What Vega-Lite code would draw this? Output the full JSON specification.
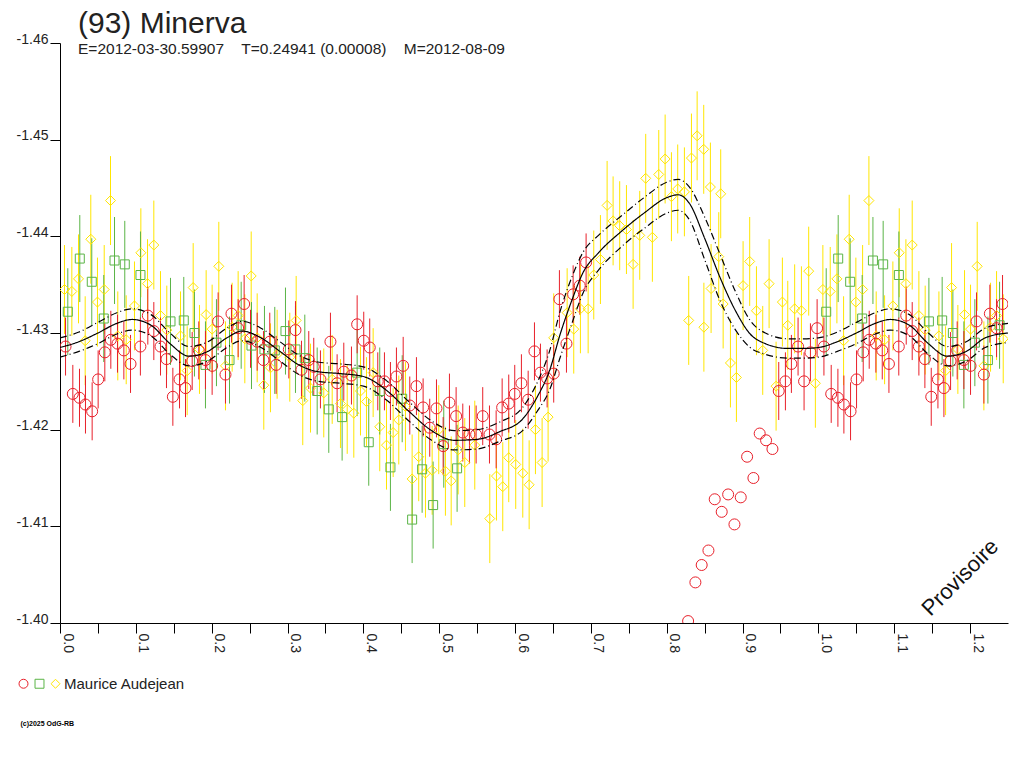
{
  "$schema": "https://vega.github.io/schema/vega-lite/v6.json",
  "width": 948,
  "height": 580,
  "autosize": {"type": "none"},
  "padding": {"left": 60, "top": 43, "right": 16, "bottom": 145},
  "background": "white",
  "title": {
    "text": "(93) Minerva",
    "subtitle": "E=2012-03-30.59907\u00a0\u00a0\u00a0\u00a0T=0.24941 (0.00008)\u00a0\u00a0\u00a0\u00a0M=2012-08-09",
    "anchor": "start", "frame": "group", "dx": 18, "offset": -25,
    "font": "Liberation Sans", "fontSize": 30, "fontWeight": "normal", "color": "#222",
    "subtitleFont": "Liberation Sans", "subtitleFontSize": 15.5, "subtitleColor": "#222", "subtitlePadding": 3
  },
  "config": {
    "view": {"stroke": null},
    "font": "Liberation Sans",
    "axis": {"domainColor": "#000", "tickColor": "#000", "labelColor": "#222", "labelFont": "Liberation Sans", "labelFontSize": 14, "grid": false, "domainWidth": 1, "tickWidth": 1},
    "axisY": {"tickSize": 10, "labelPadding": 2, "labelBaseline": "alphabetic"},
    "axisX": {"tickSize": 10, "labelPadding": 0, "labelAngle": 90, "labelAlign": "left", "labelBaseline": "bottom"}
  },
  "datasets": {
    "pts": [
      {"p":0.0059,"m":-1.4345,"e":0.0046,"s":"Y"},{"p":0.0156,"m":-1.4343,"e":0.0046,"s":"Y"},{"p":0.0244,"m":-1.4356,"e":0.0046,"s":"Y"},{"p":0.0332,"m":-1.4292,"e":0.0046,"s":"Y"},{"p":0.0406,"m":-1.4397,"e":0.0046,"s":"Y"},{"p":0.0494,"m":-1.4332,"e":0.0046,"s":"Y"},{"p":0.0583,"m":-1.4345,"e":0.0046,"s":"Y"},{"p":0.0666,"m":-1.4437,"e":0.0046,"s":"Y"},{"p":0.0762,"m":-1.4297,"e":0.0046,"s":"Y"},{"p":0.0873,"m":-1.4293,"e":0.0046,"s":"Y"},
      {"p":0.0982,"m":-1.4328,"e":0.0046,"s":"Y"},{"p":0.1066,"m":-1.4383,"e":0.0046,"s":"Y"},{"p":0.1154,"m":-1.4351,"e":0.0046,"s":"Y"},{"p":0.1237,"m":-1.4391,"e":0.0046,"s":"Y"},{"p":0.1325,"m":-1.4318,"e":0.0046,"s":"Y"},{"p":0.1408,"m":-1.4303,"e":0.0046,"s":"Y"},{"p":0.1589,"m":-1.4297,"e":0.0046,"s":"Y"},{"p":0.1677,"m":-1.4261,"e":0.0046,"s":"Y"},{"p":0.1756,"m":-1.4347,"e":0.0046,"s":"Y"},{"p":0.1839,"m":-1.4283,"e":0.0046,"s":"Y"},
      {"p":0.1927,"m":-1.4319,"e":0.0046,"s":"Y"},{"p":0.2006,"m":-1.4304,"e":0.0046,"s":"Y"},{"p":0.2094,"m":-1.4369,"e":0.0046,"s":"Y"},{"p":0.2182,"m":-1.4266,"e":0.0046,"s":"Y"},{"p":0.2270,"m":-1.4306,"e":0.0046,"s":"Y"},{"p":0.2349,"m":-1.4318,"e":0.0046,"s":"Y"},{"p":0.2437,"m":-1.4294,"e":0.0046,"s":"Y"},{"p":0.2521,"m":-1.4359,"e":0.0046,"s":"Y"},{"p":0.2600,"m":-1.4295,"e":0.0046,"s":"Y"},{"p":0.2687,"m":-1.4246,"e":0.0046,"s":"Y"},
      {"p":0.2775,"m":-1.4264,"e":0.0046,"s":"Y"},{"p":0.2863,"m":-1.4278,"e":0.0046,"s":"Y"},{"p":0.3030,"m":-1.4275,"e":0.0046,"s":"Y"},{"p":0.3114,"m":-1.4313,"e":0.0046,"s":"Y"},{"p":0.3201,"m":-1.4230,"e":0.0046,"s":"Y"},{"p":0.3303,"m":-1.4243,"e":0.0046,"s":"Y"},{"p":0.3478,"m":-1.4238,"e":0.0046,"s":"Y"},{"p":0.3589,"m":-1.4252,"e":0.0046,"s":"Y"},{"p":0.3698,"m":-1.4227,"e":0.0046,"s":"Y"},{"p":0.3787,"m":-1.4221,"e":0.0046,"s":"Y"},
      {"p":0.3874,"m":-1.4217,"e":0.0046,"s":"Y"},{"p":0.3962,"m":-1.4240,"e":0.0046,"s":"Y"},{"p":0.4041,"m":-1.4229,"e":0.0046,"s":"Y"},{"p":0.4129,"m":-1.4259,"e":0.0046,"s":"Y"},{"p":0.4216,"m":-1.4203,"e":0.0046,"s":"Y"},{"p":0.4305,"m":-1.4184,"e":0.0046,"s":"Y"},{"p":0.4393,"m":-1.4197,"e":0.0046,"s":"Y"},{"p":0.4467,"m":-1.4210,"e":0.0046,"s":"Y"},{"p":0.4555,"m":-1.4224,"e":0.0046,"s":"Y"},{"p":0.4643,"m":-1.4149,"e":0.0046,"s":"Y"},
      {"p":0.4730,"m":-1.4172,"e":0.0046,"s":"Y"},{"p":0.4819,"m":-1.4155,"e":0.0046,"s":"Y"},{"p":0.4907,"m":-1.4158,"e":0.0046,"s":"Y"},{"p":0.4994,"m":-1.4200,"e":0.0046,"s":"Y"},{"p":0.5082,"m":-1.4157,"e":0.0046,"s":"Y"},{"p":0.5158,"m":-1.4147,"e":0.0046,"s":"Y"},{"p":0.5250,"m":-1.4179,"e":0.0046,"s":"Y"},{"p":0.5337,"m":-1.4166,"e":0.0046,"s":"Y"},{"p":0.5469,"m":-1.4184,"e":0.0046,"s":"Y"},{"p":0.5667,"m":-1.4108,"e":0.0046,"s":"Y"},
      {"p":0.5755,"m":-1.4152,"e":0.0046,"s":"Y"},{"p":0.5838,"m":-1.4141,"e":0.0046,"s":"Y"},{"p":0.5917,"m":-1.4171,"e":0.0046,"s":"Y"},{"p":0.6009,"m":-1.4164,"e":0.0046,"s":"Y"},{"p":0.6102,"m":-1.4155,"e":0.0046,"s":"Y"},{"p":0.6186,"m":-1.4143,"e":0.0046,"s":"Y"},{"p":0.6269,"m":-1.4200,"e":0.0046,"s":"Y"},{"p":0.6357,"m":-1.4166,"e":0.0046,"s":"Y"},{"p":0.6436,"m":-1.4213,"e":0.0046,"s":"Y"},{"p":0.6510,"m":-1.4295,"e":0.0046,"s":"Y"},
      {"p":0.6687,"m":-1.4321,"e":0.0046,"s":"Y"},{"p":0.6774,"m":-1.4304,"e":0.0046,"s":"Y"},{"p":0.6862,"m":-1.4325,"e":0.0046,"s":"Y"},{"p":0.6964,"m":-1.4325,"e":0.0046,"s":"Y"},{"p":0.7038,"m":-1.4360,"e":0.0046,"s":"Y"},{"p":0.7126,"m":-1.4376,"e":0.0046,"s":"Y"},{"p":0.7214,"m":-1.4432,"e":0.0046,"s":"Y"},{"p":0.7293,"m":-1.4416,"e":0.0046,"s":"Y"},{"p":0.7380,"m":-1.4411,"e":0.0046,"s":"Y"},{"p":0.7469,"m":-1.4407,"e":0.0046,"s":"Y"},
      {"p":0.7557,"m":-1.4371,"e":0.0046,"s":"Y"},{"p":0.7644,"m":-1.4401,"e":0.0046,"s":"Y"},{"p":0.7723,"m":-1.4460,"e":0.0046,"s":"Y"},{"p":0.7811,"m":-1.4399,"e":0.0046,"s":"Y"},{"p":0.7895,"m":-1.4464,"e":0.0046,"s":"Y"},{"p":0.7979,"m":-1.4480,"e":0.0046,"s":"Y"},{"p":0.8062,"m":-1.4441,"e":0.0046,"s":"Y"},{"p":0.8145,"m":-1.4449,"e":0.0046,"s":"Y"},{"p":0.8233,"m":-1.4446,"e":0.0046,"s":"Y"},{"p":0.8290,"m":-1.4313,"e":0.0046,"s":"Y"},
      {"p":0.8326,"m":-1.4481,"e":0.0046,"s":"Y"},{"p":0.8401,"m":-1.4504,"e":0.0046,"s":"Y"},{"p":0.8488,"m":-1.4490,"e":0.0046,"s":"Y"},{"p":0.8490,"m":-1.4306,"e":0.0046,"s":"Y"},{"p":0.8576,"m":-1.4451,"e":0.0046,"s":"Y"},{"p":0.8585,"m":-1.4346,"e":0.0046,"s":"Y"},{"p":0.8686,"m":-1.4379,"e":0.0046,"s":"Y"},{"p":0.8712,"m":-1.4444,"e":0.0046,"s":"Y"},{"p":0.8744,"m":-1.4330,"e":0.0046,"s":"Y"},{"p":0.8840,"m":-1.4269,"e":0.0046,"s":"Y"},
      {"p":0.8919,"m":-1.4254,"e":0.0046,"s":"Y"},{"p":0.9007,"m":-1.4349,"e":0.0046,"s":"Y"},{"p":0.9094,"m":-1.4374,"e":0.0046,"s":"Y"},{"p":0.9183,"m":-1.4323,"e":0.0046,"s":"Y"},{"p":0.9266,"m":-1.4282,"e":0.0046,"s":"Y"},{"p":0.9350,"m":-1.4351,"e":0.0046,"s":"Y"},{"p":0.9442,"m":-1.4245,"e":0.0046,"s":"Y"},{"p":0.9525,"m":-1.4332,"e":0.0046,"s":"Y"},{"p":0.9596,"m":-1.4308,"e":0.0046,"s":"Y"},{"p":0.9687,"m":-1.4325,"e":0.0046,"s":"Y"},
      {"p":0.9776,"m":-1.4323,"e":0.0046,"s":"Y"},{"p":0.9872,"m":-1.4364,"e":0.0046,"s":"Y"},{"p":0.9960,"m":-1.4248,"e":0.0046,"s":"Y"},
      {"p":1.0059,"m":-1.4345,"e":0.0046,"s":"Y"},{"p":1.0156,"m":-1.4343,"e":0.0046,"s":"Y"},{"p":1.0244,"m":-1.4356,"e":0.0046,"s":"Y"},{"p":1.0332,"m":-1.4292,"e":0.0046,"s":"Y"},{"p":1.0406,"m":-1.4397,"e":0.0046,"s":"Y"},{"p":1.0494,"m":-1.4332,"e":0.0046,"s":"Y"},{"p":1.0583,"m":-1.4345,"e":0.0046,"s":"Y"},{"p":1.0666,"m":-1.4437,"e":0.0046,"s":"Y"},{"p":1.0762,"m":-1.4297,"e":0.0046,"s":"Y"},{"p":1.0873,"m":-1.4293,"e":0.0046,"s":"Y"},
      {"p":1.0982,"m":-1.4328,"e":0.0046,"s":"Y"},{"p":1.1066,"m":-1.4383,"e":0.0046,"s":"Y"},{"p":1.1154,"m":-1.4351,"e":0.0046,"s":"Y"},{"p":1.1237,"m":-1.4391,"e":0.0046,"s":"Y"},{"p":1.1325,"m":-1.4318,"e":0.0046,"s":"Y"},{"p":1.1408,"m":-1.4303,"e":0.0046,"s":"Y"},{"p":1.1589,"m":-1.4297,"e":0.0046,"s":"Y"},{"p":1.1677,"m":-1.4261,"e":0.0046,"s":"Y"},{"p":1.1756,"m":-1.4347,"e":0.0046,"s":"Y"},{"p":1.1839,"m":-1.4283,"e":0.0046,"s":"Y"},
      {"p":1.1927,"m":-1.4319,"e":0.0046,"s":"Y"},{"p":1.2006,"m":-1.4304,"e":0.0046,"s":"Y"},{"p":1.2094,"m":-1.4369,"e":0.0046,"s":"Y"},{"p":1.2182,"m":-1.4266,"e":0.0046,"s":"Y"},{"p":1.2270,"m":-1.4306,"e":0.0046,"s":"Y"},{"p":1.2349,"m":-1.4318,"e":0.0046,"s":"Y"},{"p":1.2437,"m":-1.4294,"e":0.0046,"s":"Y"},
      {"p":0.0103,"m":-1.4322,"e":0.0045,"s":"G"},{"p":0.0261,"m":-1.4377,"e":0.0045,"s":"G"},{"p":0.0419,"m":-1.4353,"e":0.0045,"s":"G"},{"p":0.0577,"m":-1.4315,"e":0.0045,"s":"G"},{"p":0.0719,"m":-1.4375,"e":0.0045,"s":"G"},{"p":0.0854,"m":-1.4371,"e":0.0045,"s":"G"},{"p":0.1061,"m":-1.4360,"e":0.0045,"s":"G"},{"p":0.1457,"m":-1.4312,"e":0.0045,"s":"G"},{"p":0.1632,"m":-1.4313,"e":0.0045,"s":"G"},{"p":0.1773,"m":-1.4300,"e":0.0045,"s":"G"},
      {"p":0.1918,"m":-1.4267,"e":0.0045,"s":"G"},{"p":0.2063,"m":-1.4290,"e":0.0045,"s":"G"},{"p":0.2235,"m":-1.4272,"e":0.0045,"s":"G"},{"p":0.2389,"m":-1.4308,"e":0.0045,"s":"G"},{"p":0.2525,"m":-1.4287,"e":0.0045,"s":"G"},{"p":0.2696,"m":-1.4283,"e":0.0045,"s":"G"},{"p":0.2832,"m":-1.4282,"e":0.0045,"s":"G"},{"p":0.2973,"m":-1.4302,"e":0.0045,"s":"G"},{"p":0.3105,"m":-1.4283,"e":0.0045,"s":"G"},{"p":0.3228,"m":-1.4274,"e":0.0045,"s":"G"},
      {"p":0.3391,"m":-1.4240,"e":0.0045,"s":"G"},{"p":0.3544,"m":-1.4221,"e":0.0045,"s":"G"},{"p":0.3720,"m":-1.4213,"e":0.0045,"s":"G"},{"p":0.3918,"m":-1.4259,"e":0.0045,"s":"G"},{"p":0.4071,"m":-1.4187,"e":0.0045,"s":"G"},{"p":0.4216,"m":-1.4240,"e":0.0045,"s":"G"},{"p":0.4357,"m":-1.4161,"e":0.0045,"s":"G"},{"p":0.4512,"m":-1.4232,"e":0.0045,"s":"G"},{"p":0.4643,"m":-1.4107,"e":0.0045,"s":"G"},{"p":0.4775,"m":-1.4159,"e":0.0045,"s":"G"},
      {"p":0.4920,"m":-1.4122,"e":0.0045,"s":"G"},{"p":0.5060,"m":-1.4185,"e":0.0045,"s":"G"},{"p":0.5236,"m":-1.4160,"e":0.0045,"s":"G"},
      {"p":1.0103,"m":-1.4322,"e":0.0045,"s":"G"},{"p":1.0261,"m":-1.4377,"e":0.0045,"s":"G"},{"p":1.0419,"m":-1.4353,"e":0.0045,"s":"G"},{"p":1.0577,"m":-1.4315,"e":0.0045,"s":"G"},{"p":1.0719,"m":-1.4375,"e":0.0045,"s":"G"},{"p":1.0854,"m":-1.4371,"e":0.0045,"s":"G"},{"p":1.1061,"m":-1.4360,"e":0.0045,"s":"G"},{"p":1.1457,"m":-1.4312,"e":0.0045,"s":"G"},{"p":1.1632,"m":-1.4313,"e":0.0045,"s":"G"},{"p":1.1773,"m":-1.4300,"e":0.0045,"s":"G"},
      {"p":1.1918,"m":-1.4267,"e":0.0045,"s":"G"},{"p":1.2063,"m":-1.4290,"e":0.0045,"s":"G"},{"p":1.2235,"m":-1.4272,"e":0.0045,"s":"G"},{"p":1.2389,"m":-1.4308,"e":0.0045,"s":"G"},
      {"p":0.0073,"m":-1.4286,"e":0.003,"s":"R"},{"p":0.0169,"m":-1.4237,"e":0.003,"s":"R"},{"p":0.0257,"m":-1.4233,"e":0.003,"s":"R"},{"p":0.0336,"m":-1.4226,"e":0.003,"s":"R"},{"p":0.0424,"m":-1.4219,"e":0.003,"s":"R"},{"p":0.0503,"m":-1.4252,"e":0.003,"s":"R"},{"p":0.0591,"m":-1.4280,"e":0.003,"s":"R"},{"p":0.0670,"m":-1.4293,"e":0.003,"s":"R"},{"p":0.0758,"m":-1.4289,"e":0.003,"s":"R"},{"p":0.0842,"m":-1.4282,"e":0.003,"s":"R"},
      {"p":0.0930,"m":-1.4268,"e":0.003,"s":"R"},{"p":0.1060,"m":-1.4286,"e":0.003,"s":"R"},{"p":0.1158,"m":-1.4318,"e":0.003,"s":"R"},{"p":0.1237,"m":-1.4302,"e":0.003,"s":"R"},{"p":0.1325,"m":-1.4286,"e":0.003,"s":"R"},{"p":0.1404,"m":-1.4273,"e":0.003,"s":"R"},{"p":0.1488,"m":-1.4234,"e":0.003,"s":"R"},{"p":0.1576,"m":-1.4252,"e":0.003,"s":"R"},{"p":0.1655,"m":-1.4243,"e":0.003,"s":"R"},{"p":0.1743,"m":-1.4271,"e":0.003,"s":"R"},
      {"p":0.1830,"m":-1.4282,"e":0.003,"s":"R"},{"p":0.1918,"m":-1.4272,"e":0.003,"s":"R"},{"p":0.2006,"m":-1.4266,"e":0.003,"s":"R"},{"p":0.2085,"m":-1.4312,"e":0.003,"s":"R"},{"p":0.2182,"m":-1.4257,"e":0.003,"s":"R"},{"p":0.2261,"m":-1.4320,"e":0.003,"s":"R"},{"p":0.2349,"m":-1.4305,"e":0.003,"s":"R"},{"p":0.2428,"m":-1.4330,"e":0.003,"s":"R"},{"p":0.2512,"m":-1.4294,"e":0.003,"s":"R"},{"p":0.2600,"m":-1.4291,"e":0.003,"s":"R"},
      {"p":0.2683,"m":-1.4272,"e":0.003,"s":"R"},{"p":0.2766,"m":-1.4291,"e":0.003,"s":"R"},{"p":0.2850,"m":-1.4267,"e":0.003,"s":"R"},{"p":0.3017,"m":-1.4283,"e":0.003,"s":"R"},{"p":0.3105,"m":-1.4303,"e":0.003,"s":"R"},{"p":0.3184,"m":-1.4262,"e":0.003,"s":"R"},{"p":0.3280,"m":-1.4272,"e":0.003,"s":"R"},{"p":0.3346,"m":-1.4265,"e":0.003,"s":"R"},{"p":0.3434,"m":-1.4252,"e":0.003,"s":"R"},{"p":0.3566,"m":-1.4291,"e":0.003,"s":"R"},
      {"p":0.3654,"m":-1.4248,"e":0.003,"s":"R"},{"p":0.3742,"m":-1.4260,"e":0.003,"s":"R"},{"p":0.3843,"m":-1.4256,"e":0.003,"s":"R"},{"p":0.3918,"m":-1.4309,"e":0.003,"s":"R"},{"p":0.4005,"m":-1.4292,"e":0.003,"s":"R"},{"p":0.4084,"m":-1.4285,"e":0.003,"s":"R"},{"p":0.4190,"m":-1.4250,"e":0.003,"s":"R"},{"p":0.4278,"m":-1.4250,"e":0.003,"s":"R"},{"p":0.4357,"m":-1.4240,"e":0.003,"s":"R"},{"p":0.4436,"m":-1.4255,"e":0.003,"s":"R"},
      {"p":0.4525,"m":-1.4266,"e":0.003,"s":"R"},{"p":0.4612,"m":-1.4225,"e":0.003,"s":"R"},{"p":0.4700,"m":-1.4245,"e":0.003,"s":"R"},{"p":0.4788,"m":-1.4223,"e":0.003,"s":"R"},{"p":0.4875,"m":-1.4202,"e":0.003,"s":"R"},{"p":0.4964,"m":-1.4222,"e":0.003,"s":"R"},{"p":0.5052,"m":-1.4183,"e":0.003,"s":"R"},{"p":0.5135,"m":-1.4228,"e":0.003,"s":"R"},{"p":0.5223,"m":-1.4214,"e":0.003,"s":"R"},{"p":0.5311,"m":-1.4197,"e":0.003,"s":"R"},
      {"p":0.5399,"m":-1.4195,"e":0.003,"s":"R"},{"p":0.5487,"m":-1.4195,"e":0.003,"s":"R"},{"p":0.5574,"m":-1.4214,"e":0.003,"s":"R"},{"p":0.5663,"m":-1.4195,"e":0.003,"s":"R"},{"p":0.5751,"m":-1.4190,"e":0.003,"s":"R"},{"p":0.5830,"m":-1.4223,"e":0.003,"s":"R"},{"p":0.5917,"m":-1.4227,"e":0.003,"s":"R"},{"p":0.5996,"m":-1.4237,"e":0.003,"s":"R"},{"p":0.6084,"m":-1.4248,"e":0.003,"s":"R"},{"p":0.6173,"m":-1.4231,"e":0.003,"s":"R"},
      {"p":0.6256,"m":-1.4281,"e":0.003,"s":"R"},{"p":0.6335,"m":-1.4259,"e":0.003,"s":"R"},{"p":0.6423,"m":-1.4253,"e":0.003,"s":"R"},{"p":0.6510,"m":-1.4258,"e":0.003,"s":"R"},{"p":0.6585,"m":-1.4335,"e":0.003,"s":"R"},{"p":0.6678,"m":-1.4289,"e":0.003,"s":"R"},{"p":0.6766,"m":-1.4340,"e":0.003,"s":"R"},{"p":0.6853,"m":-1.4349,"e":0.003,"s":"R"},{"p":0.6937,"m":-1.4373,"e":0.003,"s":"R"},
      {"p":0.9477,"m":-1.4240,"e":0.003,"s":"R"},{"p":0.9565,"m":-1.4250,"e":0.003,"s":"R"},{"p":0.9644,"m":-1.4268,"e":0.003,"s":"R"},{"p":0.9732,"m":-1.4286,"e":0.003,"s":"R"},{"p":0.9811,"m":-1.4250,"e":0.003,"s":"R"},{"p":0.9895,"m":-1.4280,"e":0.003,"s":"R"},{"p":0.9983,"m":-1.4305,"e":0.003,"s":"R"},
      {"p":1.0073,"m":-1.4286,"e":0.003,"s":"R"},{"p":1.0169,"m":-1.4237,"e":0.003,"s":"R"},{"p":1.0257,"m":-1.4233,"e":0.003,"s":"R"},{"p":1.0336,"m":-1.4226,"e":0.003,"s":"R"},{"p":1.0424,"m":-1.4219,"e":0.003,"s":"R"},{"p":1.0503,"m":-1.4252,"e":0.003,"s":"R"},{"p":1.0591,"m":-1.4280,"e":0.003,"s":"R"},{"p":1.0670,"m":-1.4293,"e":0.003,"s":"R"},{"p":1.0758,"m":-1.4289,"e":0.003,"s":"R"},{"p":1.0842,"m":-1.4282,"e":0.003,"s":"R"},
      {"p":1.0930,"m":-1.4268,"e":0.003,"s":"R"},{"p":1.1060,"m":-1.4286,"e":0.003,"s":"R"},{"p":1.1158,"m":-1.4318,"e":0.003,"s":"R"},{"p":1.1237,"m":-1.4302,"e":0.003,"s":"R"},{"p":1.1325,"m":-1.4286,"e":0.003,"s":"R"},{"p":1.1404,"m":-1.4273,"e":0.003,"s":"R"},{"p":1.1488,"m":-1.4234,"e":0.003,"s":"R"},{"p":1.1576,"m":-1.4252,"e":0.003,"s":"R"},{"p":1.1655,"m":-1.4243,"e":0.003,"s":"R"},{"p":1.1743,"m":-1.4271,"e":0.003,"s":"R"},
      {"p":1.1830,"m":-1.4282,"e":0.003,"s":"R"},{"p":1.1918,"m":-1.4272,"e":0.003,"s":"R"},{"p":1.2006,"m":-1.4266,"e":0.003,"s":"R"},{"p":1.2085,"m":-1.4312,"e":0.003,"s":"R"},{"p":1.2182,"m":-1.4257,"e":0.003,"s":"R"},{"p":1.2261,"m":-1.4320,"e":0.003,"s":"R"},{"p":1.2349,"m":-1.4305,"e":0.003,"s":"R"},{"p":1.2428,"m":-1.4330,"e":0.003,"s":"R"},
      {"p":0.8282,"m":-1.4002,"e":0,"s":"R"},{"p":0.8378,"m":-1.4042,"e":0,"s":"R"},{"p":0.8461,"m":-1.4060,"e":0,"s":"R"},{"p":0.8550,"m":-1.4075,"e":0,"s":"R"},{"p":0.8633,"m":-1.4128,"e":0,"s":"R"},{"p":0.8725,"m":-1.4115,"e":0,"s":"R"},{"p":0.8810,"m":-1.4133,"e":0,"s":"R"},{"p":0.8893,"m":-1.4102,"e":0,"s":"R"},{"p":0.8976,"m":-1.4130,"e":0,"s":"R"},{"p":0.9060,"m":-1.4172,"e":0,"s":"R"},
      {"p":0.9143,"m":-1.4150,"e":0,"s":"R"},{"p":0.9226,"m":-1.4196,"e":0,"s":"R"},{"p":0.9310,"m":-1.4189,"e":0,"s":"R"},{"p":0.9394,"m":-1.4180,"e":0,"s":"R"}
    ],
    "fit": [
      {"p":0.000,"f":-1.4285,"u":-1.4295,"d":-1.4275},{"p":0.025,"f":-1.4291,"u":-1.4301,"d":-1.4281},{"p":0.050,"f":-1.4300,"u":-1.4311,"d":-1.4289},{"p":0.075,"f":-1.4310,"u":-1.4321,"d":-1.4299},{"p":0.095,"f":-1.4314,"u":-1.4325,"d":-1.4303},{"p":0.120,"f":-1.4308,"u":-1.4319,"d":-1.4297},{"p":0.145,"f":-1.4289,"u":-1.4300,"d":-1.4278},{"p":0.170,"f":-1.4276,"u":-1.4286,"d":-1.4266},{"p":0.195,"f":-1.4281,"u":-1.4291,"d":-1.4271},{"p":0.220,"f":-1.4295,"u":-1.4305,"d":-1.4285},
      {"p":0.240,"f":-1.4302,"u":-1.4312,"d":-1.4292},{"p":0.265,"f":-1.4295,"u":-1.4305,"d":-1.4285},{"p":0.290,"f":-1.4281,"u":-1.4291,"d":-1.4271},{"p":0.315,"f":-1.4267,"u":-1.4277,"d":-1.4257},{"p":0.340,"f":-1.4260,"u":-1.4270,"d":-1.4250},{"p":0.370,"f":-1.4258,"u":-1.4268,"d":-1.4248},{"p":0.400,"f":-1.4255,"u":-1.4265,"d":-1.4245},{"p":0.430,"f":-1.4241,"u":-1.4251,"d":-1.4231},{"p":0.460,"f":-1.4219,"u":-1.4229,"d":-1.4209},{"p":0.490,"f":-1.4199,"u":-1.4209,"d":-1.4189},
      {"p":0.520,"f":-1.4189,"u":-1.4199,"d":-1.4179},{"p":0.550,"f":-1.4190,"u":-1.4200,"d":-1.4180},{"p":0.580,"f":-1.4198,"u":-1.4208,"d":-1.4188},{"p":0.610,"f":-1.4211,"u":-1.4223,"d":-1.4199},{"p":0.630,"f":-1.4235,"u":-1.4250,"d":-1.4220},{"p":0.645,"f":-1.4260,"u":-1.4280,"d":-1.4240},{"p":0.660,"f":-1.4300,"u":-1.4324,"d":-1.4276},{"p":0.675,"f":-1.4334,"u":-1.4358,"d":-1.4310},{"p":0.690,"f":-1.4363,"u":-1.4384,"d":-1.4342},{"p":0.710,"f":-1.4383,"u":-1.4401,"d":-1.4365},
      {"p":0.740,"f":-1.4405,"u":-1.4421,"d":-1.4389},{"p":0.770,"f":-1.4424,"u":-1.4440,"d":-1.4408},{"p":0.800,"f":-1.4440,"u":-1.4456,"d":-1.4424},{"p":0.815,"f":-1.4443,"u":-1.4459,"d":-1.4427},{"p":0.830,"f":-1.4434,"u":-1.4451,"d":-1.4417},{"p":0.850,"f":-1.4398,"u":-1.4420,"d":-1.4376},{"p":0.870,"f":-1.4358,"u":-1.4382,"d":-1.4334},{"p":0.890,"f":-1.4324,"u":-1.4344,"d":-1.4304},{"p":0.910,"f":-1.4299,"u":-1.4313,"d":-1.4285},{"p":0.930,"f":-1.4289,"u":-1.4300,"d":-1.4278},
      {"p":0.960,"f":-1.4284,"u":-1.4294,"d":-1.4274},{"p":0.980,"f":-1.4284,"u":-1.4294,"d":-1.4274},{"p":1.000,"f":-1.4285,"u":-1.4295,"d":-1.4275},{"p":1.025,"f":-1.4291,"u":-1.4301,"d":-1.4281},{"p":1.050,"f":-1.4300,"u":-1.4311,"d":-1.4289},{"p":1.075,"f":-1.4310,"u":-1.4321,"d":-1.4299},{"p":1.095,"f":-1.4314,"u":-1.4325,"d":-1.4303},{"p":1.120,"f":-1.4308,"u":-1.4319,"d":-1.4297},{"p":1.145,"f":-1.4289,"u":-1.4300,"d":-1.4278},{"p":1.170,"f":-1.4276,"u":-1.4286,"d":-1.4266},
      {"p":1.195,"f":-1.4281,"u":-1.4291,"d":-1.4271},{"p":1.220,"f":-1.4295,"u":-1.4305,"d":-1.4285},{"p":1.250,"f":-1.4300,"u":-1.4310,"d":-1.4290}
    ],
    "note": [{"p":1.187,"m":-1.4047,"t":"Provisoire"}]
  },
  "encoding": {
    "x": {"field": "p", "type": "quantitative", "scale": {"domain": [0, 1.25], "nice": false, "zero": false},
      "axis": {"title": "(c)2025 OdG-RB", "titleFontSize": 7, "titleFontWeight": "bold", "titleColor": "#000", "titleAlign": "left", "titleBaseline": "middle", "titleX": -40, "titleY": 100, "titleAnchor": "start",
        "values": [0,0.05,0.1,0.15,0.2,0.25,0.3,0.35,0.4,0.45,0.5,0.55,0.6,0.65,0.7,0.75,0.8,0.85,0.9,0.95,1,1.05,1.1,1.15,1.2],
        "labelExpr": "round(datum.value*100)%10==0 ? format(datum.value,'.1f') : ''"}},
    "y": {"field": "m", "type": "quantitative", "scale": {"domain": [-1.46, -1.40], "reverse": true, "nice": false, "zero": false},
      "axis": {"title": null, "values": [-1.46,-1.45,-1.44,-1.43,-1.42,-1.41,-1.40],
        "labelExpr": "replace(format(datum.value,'.2f'), '\u2212', '-')"}}
  },
  "resolve": {"legend": {"color": "independent", "shape": "independent"}},
  "layer": [
    {
      "data": {"name": "pts"},
      "mark": {"type": "errorbar", "thickness": 1, "clip": true},
      "encoding": {
        "yError": {"field": "e"},
        "color": {"field": "s", "type": "nominal", "scale": {"domain": ["R","G","Y"], "range": ["#e8202a","#5ab446","#ffe600"]}, "legend": null}
      }
    },
    {
      "data": {"name": "pts"},
      "mark": {"type": "point", "filled": false, "strokeWidth": 1, "opacity": 1, "clip": true},
      "encoding": {
        "color": {"field": "s", "type": "nominal", "scale": {"domain": ["R","G","Y"], "range": ["#e8202a","#5ab446","#ffe600"]},
          "legend": {"title": null, "orient": "none", "legendX": -44, "legendY": 633, "direction": "horizontal", "columnPadding": 0, "labelOffset": 1, "symbolSize": 80, "symbolStrokeWidth": 1, "labelFontSize": 15, "labelColor": "#222", "labelFont": "Liberation Sans",
            "labelExpr": "datum.label == 'Y' ? 'Maurice Audejean' : ''"}},
        "shape": {"field": "s", "type": "nominal", "scale": {"domain": ["R","G","Y"], "range": ["circle","square","diamond"]},
          "legend": {"title": null, "orient": "none", "legendX": -44, "legendY": 633, "direction": "horizontal", "columnPadding": 0, "labelOffset": 1, "symbolSize": 80, "symbolStrokeWidth": 1, "labelFontSize": 15, "labelColor": "#222", "labelFont": "Liberation Sans",
            "labelExpr": "datum.label == 'Y' ? 'Maurice Audejean' : ''"}},
        "size": {"field": "s", "type": "nominal", "scale": {"type": "ordinal", "domain": ["R","G","Y"], "range": [121, 81, 100]}, "legend": null}
      }
    },
    {
      "data": {"name": "fit"},
      "transform": [{"fold": ["f", "u", "d"], "as": ["k", "m"]}],
      "mark": {"type": "line", "color": "#000", "strokeWidth": 1.2, "interpolate": "monotone", "clip": true},
      "encoding": {
        "detail": {"field": "k", "type": "nominal"},
        "strokeDash": {"field": "k", "type": "nominal", "scale": {"domain": ["f","u","d"], "range": [[1,0],[7,3,1,3],[7,3,1,3]]}, "legend": null}
      }
    },
    {
      "data": {"name": "note"},
      "mark": {"type": "text", "angle": -45, "fontSize": 22, "font": "Liberation Sans", "color": "#111", "align": "center", "baseline": "middle"},
      "encoding": {
        "text": {"field": "t"}
      }
    }
  ]
}
